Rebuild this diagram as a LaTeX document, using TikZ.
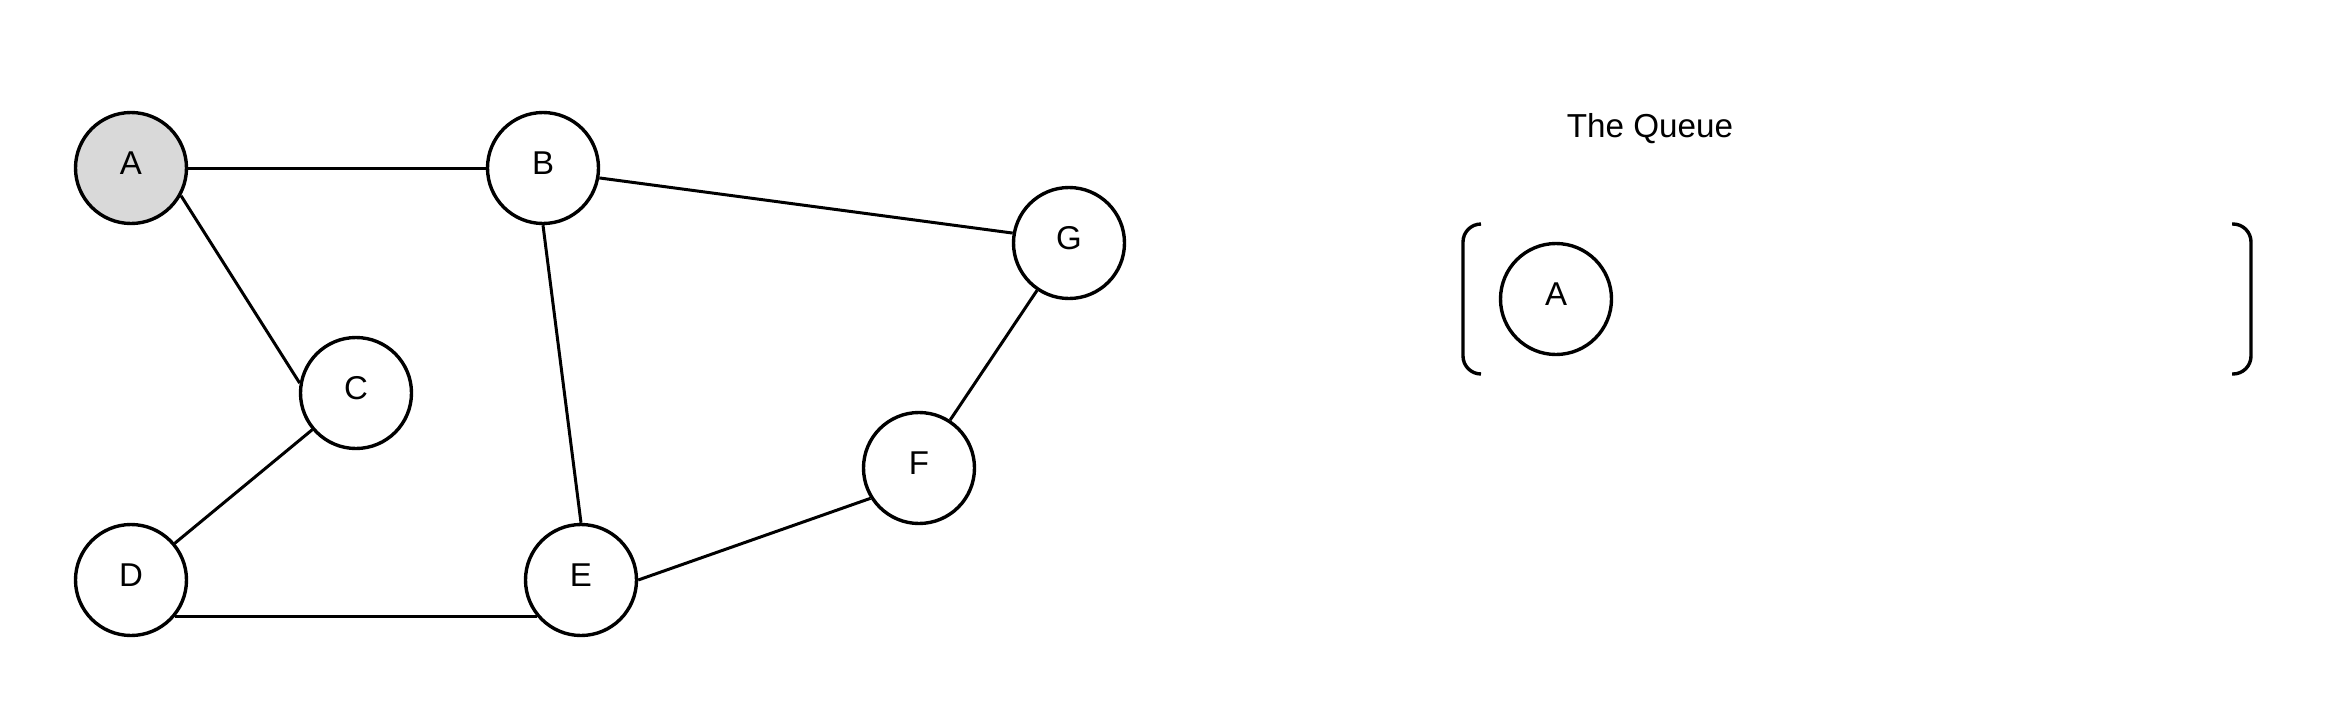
\documentclass[tikz,border=0pt]{standalone}
\usepackage{fontspec}
\setmainfont{Liberation Sans}

\begin{document}
\begin{tikzpicture}[x=0.5pt,y=-0.5pt,line width=1.5pt,
  vertex/.style={circle,fill=white,draw,line width=1.7pt,minimum size=55.5pt,inner sep=0pt,
    text height=11.7pt,text depth=5.5pt,font=\fontsize{16.5pt}{19pt}\selectfont},
  visited/.style={vertex,fill=gray!30}]
\useasboundingbox (0,0) rectangle (2325,713);
\draw (131,168) node[visited](A) {A};
\draw (543,168) node[vertex](B) {B};
\draw (356,393) node[vertex](C) {C};
\draw (131,580) node[vertex](D) {D};
\draw (581,580) node[vertex](E) {E};
\draw (919,468) node[vertex](F) {F};
\draw (1069,243) node[vertex](G) {G};
\draw (A.0) -- (B.180);
\draw (A.-29) -- (C.170);
\draw (C.220) -- (D.40);
\draw (D.-40) -- (E.-140);
\draw (B.-90) -- (E.90);
\draw (B.-10) -- (G.170);
\draw (G.-124) -- (F.57);
\draw (E.0) -- (F.212);
% the queue
\draw (1650,137) node[anchor=base,font=\fontsize{16.6pt}{19pt}\selectfont](title) {The Queue};
\draw (1556,299) node[vertex](qA) {A};
\draw[line width=1.7pt,rounded corners=9pt] (1481,224) -- (1463,224) -- (1463,374) -- (1481,374);
\draw[line width=1.7pt,rounded corners=9pt] (2232,224) -- (2251,224) -- (2251,374) -- (2232,374);
\end{tikzpicture}
\end{document}
